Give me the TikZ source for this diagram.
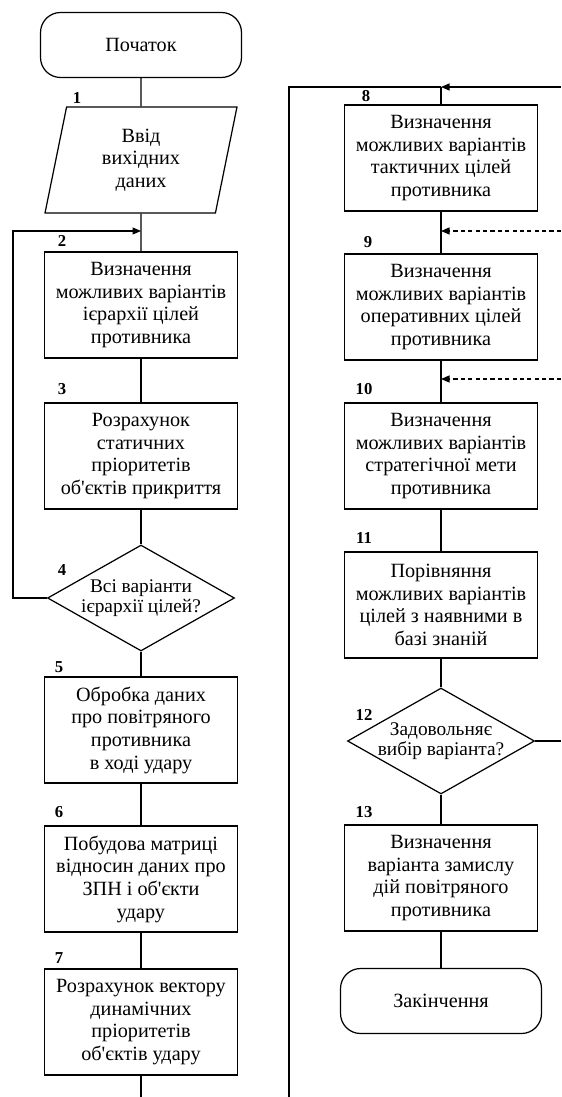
\documentclass[tikz,border=0pt]{standalone}
\usepackage{fontspec}
\setmainfont{Liberation Serif}
\usepackage{tikz}
\usepackage{xcolor}
\usetikzlibrary{shapes.geometric,arrows.meta}
\font\aposfont="Liberation Serif" at 11.5pt
\newcommand{\apos}{{\aposfont\char"0027}}

\begin{document}
\begin{tikzpicture}[x=0.02cm,y=-0.02cm,line width=0.7pt,
  blok/.style={draw,rectangle,minimum width=3.86cm,minimum height=2.12cm,inner sep=0pt,align=center,font=\fontsize{11.5}{12.9}\selectfont},
  term/.style={draw,rectangle,rounded corners=0.4cm,minimum width=4.02cm,minimum height=1.3cm,font=\fontsize{11.5}{12.9}\selectfont},
  vvid/.style={draw,trapezium,trapezium left angle=71,trapezium right angle=109,trapezium stretches body,minimum width=3.84cm,minimum height=2.12cm,inner sep=0pt,align=center,font=\fontsize{11.5}{12.9}\selectfont},
  umova/.style={draw,diamond,minimum width=3.74cm,minimum height=2.12cm,inner sep=0pt},
  umtext/.style={align=center,font=\fontsize{11}{11.5}\selectfont},
  nomer/.style={font=\fontsize{9.5}{10}\selectfont\bfseries},
  arr/.style={-{Triangle[length=1.7mm,width=1.4mm]}},
  pukt/.style={dash pattern=on 2.4pt off 1.8pt}]
\useasboundingbox (0,0) rectangle (561,1097);

% left column
\node[term] (poch) at (141,45) {Початок};
\node[vvid] (vvid) at (141,160) {Ввід\\вихідних\\даних};
\node[blok] (b2) at (141,305) {Визначення\\можливих варіантів\\ієрархії цілей\\противника};
\node[blok] (b3) at (141,456) {Розрахунок\\статичних\\пріоритетів\\об\apos єктів прикриття};
\node[umova,label={[umtext]center:Всі варіанти\\ієрархії цілей?}] (d4) at (141,598) {};
\node[blok] (b5) at (141,730) {Обробка даних\\про повітряного\\противника\\в ході удару};
\node[blok] (b6) at (141,879) {Побудова матриці\\відносин даних про\\ЗПН і об\apos єкти\\удару};
\node[blok] (b7) at (141,1022) {Розрахунок вектору\\динамічних\\пріоритетів\\об\apos єктів удару};

\node[nomer] (n1) at (77,98) {1};
\node[nomer] (n2) at (62,241) {2};
\node[nomer] (n3) at (62,389) {3};
\node[nomer] (n4) at (62,570) {4};
\node[nomer] (n5) at (59,667) {5};
\node[nomer] (n6) at (59,812) {6};
\node[nomer] (n7) at (59,958) {7};

\coordinate (j2) at (141,231);
\coordinate (vyhL) at (141,1097);

\draw (poch) -- (vvid);
\draw (vvid) -- (b2);
\draw (b2) -- (b3);
\draw (b3) -- (d4);
\draw (d4) -- (b5);
\draw (b5) -- (b6);
\draw (b6) -- (b7);
\draw (b7) -- (vyhL);
\draw[arr] (d4.west) -- (13,598) -- (13,231) -- (j2);

% right column
\node[blok] (b8) at (441,158) {Визначення\\можливих варіантів\\тактичних цілей\\противника};
\node[blok] (b9) at (441,307) {Визначення\\можливих варіантів\\оперативних цілей\\противника};
\node[blok] (b10) at (441,456) {Визначення\\можливих варіантів\\стратегічної мети\\противника};
\node[blok] (b11) at (441,605) {Порівняння\\можливих варіантів\\цілей з наявними в\\базі знаній};
\node[umova,label={[umtext]center:Задовольняє\\вибір варіанта?}] (d12) at (441,741) {};
\node[blok] (b13) at (441,878) {Визначення\\варіанта замислу\\дій повітряного\\противника};
\node[term] (kin) at (441,1001) {Закінчення};

\node[nomer] (n8) at (366,96) {8};
\node[nomer] (n9) at (368,242) {9};
\node[nomer] (n10) at (364,389) {10};
\node[nomer] (n11) at (364,538) {11};
\node[nomer] (n12) at (364,715) {12};
\node[nomer] (n13) at (364,812) {13};

\coordinate (j8) at (441,87);
\coordinate (j9) at (441,231);
\coordinate (j10) at (441,379);
\coordinate (vhidR) at (561,87);
\coordinate (vhid9) at (561,231);
\coordinate (vhid10) at (561,379);
\coordinate (vyhD) at (561,741);
\coordinate (vyhR) at (289,1097);

\draw[arr] (vhidR) -- (j8);
\draw (j8) -| (vyhR);
\draw (j8) -- (b8);
\draw (b8) -- (b9);
\draw (b9) -- (b10);
\draw (b10) -- (b11);
\draw (b11) -- (d12);
\draw (d12) -- (b13);
\draw (b13) -- (kin);
\draw (d12.east) -- (vyhD);
\draw[arr,pukt] (vhid9) -- (j9);
\draw[arr,pukt] (vhid10) -- (j10);
\end{tikzpicture}
\end{document}
